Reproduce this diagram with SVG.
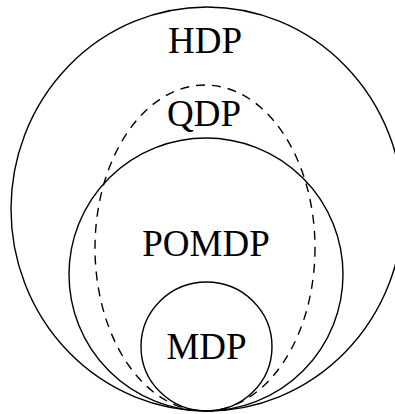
<svg xmlns="http://www.w3.org/2000/svg" width="395" height="414" viewBox="0 0 395 414">
<style>
.c{fill:none;stroke:#000;stroke-width:1.4}
.d{stroke-dasharray:9 7}
.t{font-family:"Liberation Serif","Times New Roman",serif;font-size:37px;fill:#000;text-anchor:middle}
</style>
<rect width="395" height="414" fill="#fff"/>
<g id="hdp"><ellipse class="c" cx="207" cy="209" rx="196" ry="202"/><text class="t" x="205" y="53">HDP</text></g>
<g id="qdp"><ellipse class="c d" cx="205" cy="248" rx="110" ry="163"/><text class="t" x="204" y="126">QDP</text></g>
<g id="pomdp"><ellipse class="c" cx="206" cy="274.5" rx="137" ry="136.5"/><text class="t" x="206" y="256">POMDP</text></g>
<g id="mdp"><ellipse class="c" cx="206.5" cy="346.5" rx="65.5" ry="64.5"/><text class="t" x="206.5" y="359">MDP</text></g>
<g id="connectors"></g>
</svg>
